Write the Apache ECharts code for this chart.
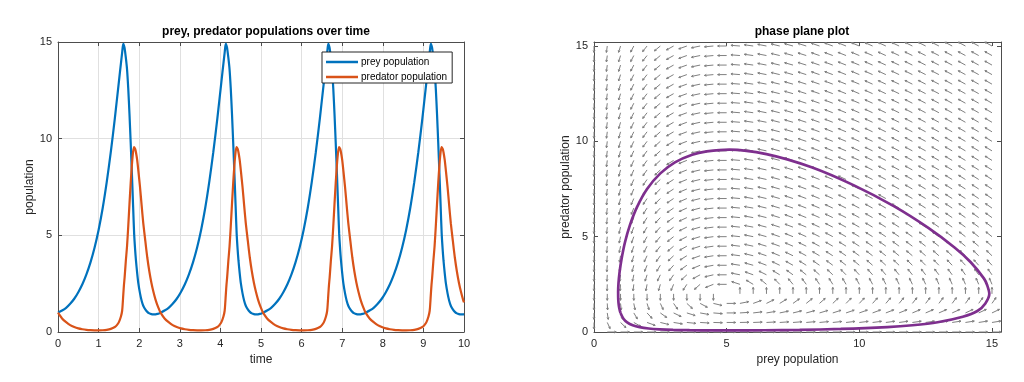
<!DOCTYPE html>
<html>
<head>
<meta charset="utf-8">
<script src="https://cdn.jsdelivr.net/npm/echarts@6/dist/echarts.min.js"></script>
<style>
html,body{margin:0;padding:0;background:#fff;}
#chart{width:1024px;height:382px;}
</style>
</head>
<body>
<div id="chart"></div>
<script>
// ---- data ----
const time = [
  0, 0.1, 0.2, 0.3, 0.4, 0.5, 0.6, 0.7, 0.8, 0.9, 1.0, 1.1, 1.2, 1.3, 1.4, 1.45, 1.5, 1.55, 1.58, 1.595, 1.61, 1.625, 1.64, 1.67, 1.7, 1.73, 1.76, 1.79, 1.82, 1.85, 1.875, 1.9, 1.92, 1.95, 1.98, 2.02, 2.06, 2.1, 2.15, 2.2, 2.25, 2.3, 2.35, 2.4, 2.45, 2.5,
  2.525, 2.625, 2.725, 2.825, 2.925, 3.025, 3.125, 3.225, 3.325, 3.425, 3.525, 3.625, 3.725, 3.825, 3.925, 3.975, 4.025, 4.075, 4.105, 4.12, 4.135, 4.15, 4.165, 4.195, 4.225, 4.255, 4.285, 4.315, 4.345, 4.375, 4.4, 4.425, 4.445, 4.475, 4.505, 4.545, 4.585, 4.625, 4.675, 4.725, 4.775, 4.825, 4.875, 4.925, 4.975, 5.025,
  5.05, 5.15, 5.25, 5.35, 5.45, 5.55, 5.65, 5.75, 5.85, 5.95, 6.05, 6.15, 6.25, 6.35, 6.45, 6.5, 6.55, 6.6, 6.63, 6.645, 6.66, 6.675, 6.69, 6.72, 6.75, 6.78, 6.81, 6.84, 6.87, 6.9, 6.925, 6.95, 6.97, 7.0, 7.03, 7.07, 7.11, 7.15, 7.2, 7.25, 7.3, 7.35, 7.4, 7.45, 7.5, 7.55,
  7.575, 7.675, 7.775, 7.875, 7.975, 8.075, 8.175, 8.275, 8.375, 8.475, 8.575, 8.675, 8.775, 8.875, 8.975, 9.025, 9.075, 9.125, 9.155, 9.17, 9.185, 9.2, 9.215, 9.245, 9.275, 9.305, 9.335, 9.365, 9.395, 9.425, 9.45, 9.475, 9.495, 9.525, 9.555, 9.595, 9.635, 9.675, 9.725, 9.775, 9.825, 9.875, 9.925, 9.975, 10.0
];
const prey = [
  1.00, 1.11, 1.25, 1.46, 1.72, 2.06, 2.47, 2.98, 3.60, 4.36, 5.28, 6.40, 7.75, 9.30, 11.05, 12.00, 12.95, 13.90, 14.45, 14.75, 14.90, 14.82, 14.70, 14.20, 13.60, 12.60, 11.30, 9.80, 8.20, 6.50, 5.10, 4.25, 3.70, 3.05, 2.50, 2.00, 1.62, 1.36, 1.17, 1.04, 0.963, 0.923, 0.91, 0.915, 0.937, 0.974,
  1.00, 1.11, 1.25, 1.46, 1.72, 2.06, 2.47, 2.98, 3.60, 4.36, 5.28, 6.40, 7.75, 9.30, 11.05, 12.00, 12.95, 13.90, 14.45, 14.75, 14.90, 14.82, 14.70, 14.20, 13.60, 12.60, 11.30, 9.80, 8.20, 6.50, 5.10, 4.25, 3.70, 3.05, 2.50, 2.00, 1.62, 1.36, 1.17, 1.04, 0.963, 0.923, 0.91, 0.915, 0.937, 0.974,
  1.00, 1.11, 1.25, 1.46, 1.72, 2.06, 2.47, 2.98, 3.60, 4.36, 5.28, 6.40, 7.75, 9.30, 11.05, 12.00, 12.95, 13.90, 14.45, 14.75, 14.90, 14.82, 14.70, 14.20, 13.60, 12.60, 11.30, 9.80, 8.20, 6.50, 5.10, 4.25, 3.70, 3.05, 2.50, 2.00, 1.62, 1.36, 1.17, 1.04, 0.963, 0.923, 0.91, 0.915, 0.937, 0.974,
  1.00, 1.11, 1.25, 1.46, 1.72, 2.06, 2.47, 2.98, 3.60, 4.36, 5.28, 6.40, 7.75, 9.30, 11.05, 12.00, 12.95, 13.90, 14.45, 14.75, 14.90, 14.82, 14.70, 14.20, 13.60, 12.60, 11.30, 9.80, 8.20, 6.50, 5.10, 4.25, 3.70, 3.05, 2.50, 2.00, 1.62, 1.36, 1.17, 1.04, 0.963, 0.923, 0.91, 0.915, 0.925
];
const predator = [
  1.00, 0.70, 0.507, 0.354, 0.255, 0.185, 0.142, 0.112, 0.095, 0.086, 0.083, 0.091, 0.112, 0.16, 0.26, 0.355, 0.51, 0.80, 1.10, 1.50, 2.00, 2.45, 2.80, 3.66, 4.42, 5.46, 6.60, 7.69, 8.64, 9.33, 9.57, 9.47, 9.30, 8.90, 8.32, 7.50, 6.55, 5.63, 4.72, 3.84, 3.13, 2.55, 2.08, 1.69, 1.38, 1.12,
  1.00, 0.70, 0.507, 0.354, 0.255, 0.185, 0.142, 0.112, 0.095, 0.086, 0.083, 0.091, 0.112, 0.16, 0.26, 0.355, 0.51, 0.80, 1.10, 1.50, 2.00, 2.45, 2.80, 3.66, 4.42, 5.46, 6.60, 7.69, 8.64, 9.33, 9.57, 9.47, 9.30, 8.90, 8.32, 7.50, 6.55, 5.63, 4.72, 3.84, 3.13, 2.55, 2.08, 1.69, 1.38, 1.12,
  1.00, 0.70, 0.507, 0.354, 0.255, 0.185, 0.142, 0.112, 0.095, 0.086, 0.083, 0.091, 0.112, 0.16, 0.26, 0.355, 0.51, 0.80, 1.10, 1.50, 2.00, 2.45, 2.80, 3.66, 4.42, 5.46, 6.60, 7.69, 8.64, 9.33, 9.57, 9.47, 9.30, 8.90, 8.32, 7.50, 6.55, 5.63, 4.72, 3.84, 3.13, 2.55, 2.08, 1.69, 1.38, 1.12,
  1.00, 0.70, 0.507, 0.354, 0.255, 0.185, 0.142, 0.112, 0.095, 0.086, 0.083, 0.091, 0.112, 0.16, 0.26, 0.355, 0.51, 0.80, 1.10, 1.50, 2.00, 2.45, 2.80, 3.66, 4.42, 5.46, 6.60, 7.69, 8.64, 9.33, 9.57, 9.47, 9.30, 8.90, 8.32, 7.50, 6.55, 5.63, 4.72, 3.84, 3.13, 2.55, 2.08, 1.69, 1.53
];
// the phase-plane loop is one period of the same solution (first 47 samples close the loop)
const phaseLoopLength = 47;
const timeTicks = [0, 1, 2, 3, 4, 5, 6, 7, 8, 9, 10];
const populationTicks = [0, 5, 10, 15];
const phaseTicks = [0, 5, 10, 15];
// direction-field grid positions (prey and predator values of the arrow tails)
const fieldGrid = [0, 0.5, 1, 1.5, 2, 2.5, 3, 3.5, 4, 4.5, 5, 5.5, 6, 6.5, 7, 7.5, 8, 8.5, 9, 9.5, 10, 10.5, 11, 11.5, 12, 12.5, 13, 13.5, 14, 14.5, 15];
// Lotka-Volterra coefficients (equilibrium at prey 5, predator 2)
const preyGrowth = 2, predation = 1, predatorDeath = 5, predatorGain = 1;

// ---- build series ----
const preySeries = time.map((t, i) => [t, prey[i]]);
const predSeries = time.map((t, i) => [t, predator[i]]);
const phaseSeries = prey.slice(0, phaseLoopLength).map((p, i) => [p, predator[i]]);

const arrowLen = 0.34;
const field = [];
fieldGrid.forEach(px => {
  fieldGrid.forEach(py => {
    const u = px * (preyGrowth - predation * py);
    const v = py * (predatorGain * px - predatorDeath);
    const n = Math.hypot(u, v);
    if (n === 0) return;
    field.push([px, py, u / n * arrowLen, v / n * arrowLen]);
  });
});

const FONT = 'Arial, "Liberation Sans", Helvetica, sans-serif';
const AX = '#4d4d4d';
const TXT = '#262626';

function baseAxis(extra) {
  return Object.assign({
    axisLine: {show: true, onZero: false, lineStyle: {color: AX, width: 1}},
    axisTick: {show: true, inside: true, length: 4, lineStyle: {color: AX}},
    axisLabel: {show: true, color: TXT, fontFamily: FONT, fontSize: 11, margin: 6},
    splitLine: {show: false},
    nameTextStyle: {color: TXT, fontFamily: FONT, fontSize: 12}
  }, extra);
}

const chart = echarts.init(document.getElementById('chart'), null, {renderer: 'canvas'});

const option = {
  animation: false,
  backgroundColor: '#fff',
  title: [
    {text: 'prey, predator populations over time', left: 261, top: 21, textAlign: 'center',
     textStyle: {fontFamily: FONT, fontSize: 12, fontWeight: 'bold', color: '#000'}},
    {text: 'phase plane plot', left: 797, top: 21, textAlign: 'center',
     textStyle: {fontFamily: FONT, fontSize: 12, fontWeight: 'bold', color: '#000'}}
  ],
  legend: {
    data: ['prey population', 'predator population'],
    orient: 'vertical',
    left: 322, top: 52,
    icon: 'rect',
    itemWidth: 32, itemHeight: 2.5, itemGap: 5,
    padding: [5, 5, 1, 4],
    borderColor: '#262626', borderWidth: 1, borderRadius: 0,
    backgroundColor: '#fff',
    textStyle: {fontFamily: FONT, fontSize: 10, color: '#000', padding: [0, 0, 0, -2]},
    selectedMode: false
  },
  grid: [
    {left: 58, top: 42, width: 406, height: 290, show: false},
    {left: 594, top: 42, width: 407, height: 290, show: false}
  ],
  xAxis: [
    baseAxis({gridIndex: 0, type: 'value', min: 0, max: 10, interval: 1, position: 'bottom',
      name: 'time', nameLocation: 'middle', nameGap: 22,
      axisLabel: {show: true, color: TXT, fontFamily: FONT, fontSize: 11, margin: 6, customValues: timeTicks},
      splitLine: {show: true, lineStyle: {color: '#e0e0e0', width: 1}}}),
    baseAxis({gridIndex: 0, type: 'value', min: 0, max: 10, interval: 1, position: 'top',
      axisLabel: {show: false}}),
    baseAxis({gridIndex: 1, type: 'value', min: 0, max: 15.34, position: 'bottom',
      name: 'prey population', nameLocation: 'middle', nameGap: 22,
      axisTick: {show: true, inside: true, length: 4, lineStyle: {color: AX}, customValues: phaseTicks},
      axisLabel: {show: true, color: TXT, fontFamily: FONT, fontSize: 11, margin: 6, customValues: phaseTicks}}),
    baseAxis({gridIndex: 1, type: 'value', min: 0, max: 15.34, position: 'top',
      axisTick: {show: true, inside: true, length: 4, lineStyle: {color: AX}, customValues: phaseTicks},
      axisLabel: {show: false}})
  ],
  yAxis: [
    baseAxis({gridIndex: 0, type: 'value', min: 0, max: 15, interval: 5, position: 'left',
      name: 'population', nameLocation: 'middle', nameGap: 22, nameRotate: 90,
      splitLine: {show: true, lineStyle: {color: '#e0e0e0', width: 1}},
      axisLabel: {show: true, color: TXT, fontFamily: FONT, fontSize: 11, margin: 6, customValues: populationTicks}}),
    baseAxis({gridIndex: 0, type: 'value', min: 0, max: 15, interval: 5, position: 'right',
      axisLabel: {show: false}}),
    baseAxis({gridIndex: 1, type: 'value', min: 0, max: 15.21, position: 'left',
      name: 'predator population', nameLocation: 'middle', nameGap: 22, nameRotate: 90,
      axisTick: {show: true, inside: true, length: 4, lineStyle: {color: AX}, customValues: phaseTicks},
      axisLabel: {show: true, color: TXT, fontFamily: FONT, fontSize: 11, margin: 6, customValues: phaseTicks}}),
    baseAxis({gridIndex: 1, type: 'value', min: 0, max: 15.21, position: 'right',
      axisTick: {show: true, inside: true, length: 4, lineStyle: {color: AX}, customValues: phaseTicks},
      axisLabel: {show: false}})
  ],
  series: [
    {name: 'prey population', type: 'line', xAxisIndex: 0, yAxisIndex: 0, data: preySeries,
     showSymbol: false, smooth: 0.25, lineStyle: {color: '#0072BD', width: 2.2},
     itemStyle: {color: '#0072BD'}, z: 3},
    {name: 'predator population', type: 'line', xAxisIndex: 0, yAxisIndex: 0, data: predSeries,
     showSymbol: false, smooth: 0.25, lineStyle: {color: '#D95319', width: 2.2},
     itemStyle: {color: '#D95319'}, z: 4},
    {name: 'field', type: 'custom', xAxisIndex: 2, yAxisIndex: 2, data: field, clip: false, z: 2,
     renderItem: function (params, api) {
       const x = api.value(0), y = api.value(1), dx = api.value(2), dy = api.value(3);
       const p0 = api.coord([x, y]);
       const p1 = api.coord([x + dx, y + dy]);
       const ang = Math.atan2(p1[1] - p0[1], p1[0] - p0[0]);
       const h = 2.2;
       const a1 = ang + Math.PI - 0.45, a2 = ang + Math.PI + 0.45;
       const st = {stroke: '#808080', lineWidth: 1, fill: null};
       return {type: 'group', children: [
         {type: 'line', shape: {x1: p0[0], y1: p0[1], x2: p1[0], y2: p1[1]}, style: st},
         {type: 'polyline', shape: {points: [[p1[0] + h * Math.cos(a1), p1[1] + h * Math.sin(a1)], p1,
           [p1[0] + h * Math.cos(a2), p1[1] + h * Math.sin(a2)]]}, style: st}
       ]};
     }},
    {name: 'phase', type: 'line', xAxisIndex: 2, yAxisIndex: 2, data: phaseSeries,
     showSymbol: false, smooth: 0.3, lineStyle: {color: '#7E2F8E', width: 2.7}, z: 5}
  ]
};
chart.setOption(option);
</script>
</body>
</html>
